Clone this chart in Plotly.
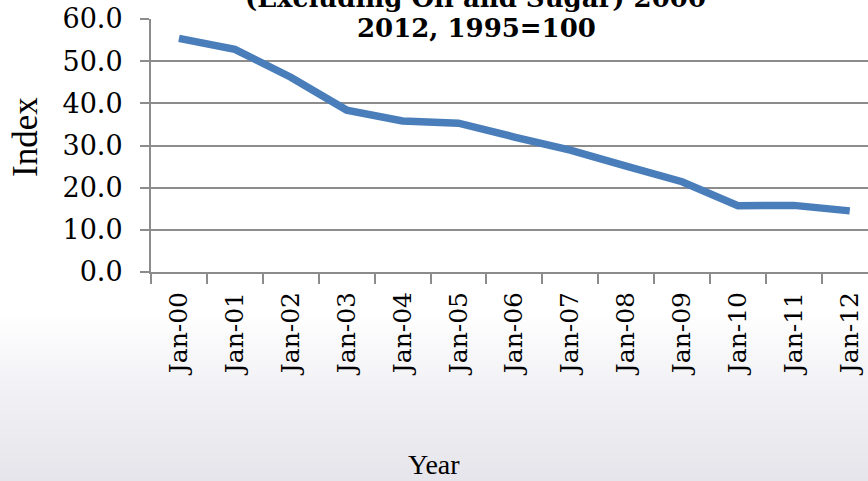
import base64
import plotly.graph_objects as go

categories = ["Jan-00", "Jan-01", "Jan-02", "Jan-03", "Jan-04", "Jan-05", "Jan-06",
              "Jan-07", "Jan-08", "Jan-09", "Jan-10", "Jan-11", "Jan-12"]
index_values = [55.4, 52.8, 46.2, 38.4, 35.8, 35.3, 32.0, 28.9, 25.1, 21.4, 15.7, 15.8, 14.5]
y_ticks = [0, 10, 20, 30, 40, 50, 60]
y_tick_text = ["0.0", "10.0", "20.0", "30.0", "40.0", "50.0", "60.0"]

W, H = 868, 481
L, R, T, B = 151, 0, 19, 209
pw, ph = W - L - R, H - T - B

svg = (
    '<svg xmlns="http://www.w3.org/2000/svg" width="868" height="481" preserveAspectRatio="none">'
    '<defs><linearGradient id="g" x1="0" y1="0" x2="0" y2="1">'
    '<stop offset="0" stop-color="#ffffff"/>'
    '<stop offset="0.65" stop-color="#ffffff"/>'
    '<stop offset="0.8" stop-color="#f2f1f5"/>'
    '<stop offset="1" stop-color="#e6e5eb"/>'
    '</linearGradient></defs>'
    '<rect width="868" height="481" fill="url(#g)"/></svg>'
)
bg_uri = "data:image/svg+xml;base64," + base64.b64encode(svg.encode()).decode()

serif = "Georgia, 'DejaVu Serif', serif"
times = "'Liberation Serif', serif"


def px_x(p):
    return (p - L) / pw


def px_y(p):
    return 1 - (p - T) / ph


fig = go.Figure()
fig.add_trace(go.Scatter(
    x=categories, y=index_values, mode="lines",
    line=dict(color="#4a7ebb", width=7.5),
    showlegend=False, hoverinfo="x+y",
))

fig.update_layout(
    width=W, height=H,
    margin=dict(l=L, r=R, t=T, b=B, pad=0),
    paper_bgcolor="white",
    plot_bgcolor="rgba(0,0,0,0)",
    images=[dict(
        source=bg_uri, xref="paper", yref="paper",
        x=-L / pw, y=1 + T / ph, sizex=W / pw, sizey=H / ph,
        xanchor="left", yanchor="top", sizing="stretch", layer="below",
    )],
    xaxis=dict(
        type="category",
        range=[-0.5, -0.5 + pw / 55.9],
        tickson="boundaries",
        ticks="outside", ticklen=10, tickwidth=2, tickcolor="#8c8c8c",
        showline=True, linecolor="#8c8c8c", linewidth=2,
        showgrid=False, zeroline=False,
        tickangle=-90,
        ticklabelstandoff=8,
        tickfont=dict(family=serif, size=25, color="black"),
    ),
    yaxis=dict(
        range=[0, 60],
        tickvals=y_ticks, ticktext=y_tick_text,
        ticks="outside", ticklen=9, tickwidth=2, tickcolor="#8c8c8c",
        showline=True, linecolor="#8c8c8c", linewidth=2,
        showgrid=True, gridcolor="#8c8c8c", gridwidth=2,
        zeroline=False,
        ticklabelstandoff=12,
        tickfont=dict(family=serif, size=27, color="black"),
    ),
    annotations=[
        dict(text="<b>(Excluding Oil and Sugar) 2000</b>", xref="paper", yref="paper",
             x=px_x(475), y=1 + 4 / ph, xanchor="center", yanchor="bottom",
             showarrow=False, font=dict(family=serif, size=26, color="black")),
        dict(text="<b>2012, 1995=100</b>", xref="paper", yref="paper",
             x=px_x(476), y=1 + 8 / ph, xanchor="center", yanchor="top",
             showarrow=False, font=dict(family=serif, size=26, color="black")),
        dict(text="Year", xref="paper", yref="paper",
             x=px_x(434), y=px_y(464), xanchor="center", yanchor="middle",
             showarrow=False, font=dict(family=times, size=28, color="black")),
        dict(text="Index", xref="paper", yref="paper", textangle=-90,
             x=px_x(25), y=px_y(137), xanchor="center", yanchor="middle",
             showarrow=False, font=dict(family=times, size=35, color="black")),
    ],
)

fig.write_html("out.html")
